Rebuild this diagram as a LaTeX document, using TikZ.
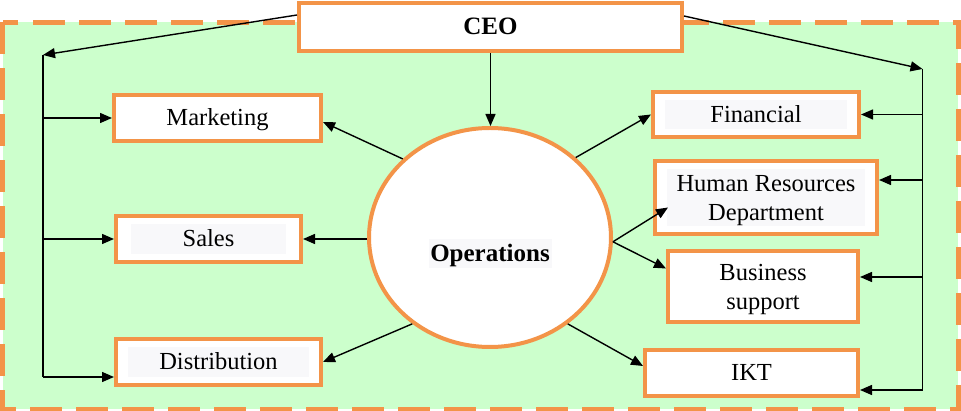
\documentclass[tikz,border=0pt]{standalone}
\usepackage{fontspec}
\setmainfont{Liberation Serif}
\usetikzlibrary{arrows.meta,shapes.geometric,calc}
\definecolor{org}{RGB}{243,148,72}
\definecolor{bg}{RGB}{204,255,204}
\definecolor{hlgray}{RGB}{248,248,250}
\tikzset{
 box/.style={draw=org, line width=4pt, fill=white, inner sep=0pt, font=\fontsize{24.5}{29}\selectfont, align=center},
 one/.style={text height=16pt, text depth=0pt},
 two/.style={text height=46pt, text depth=0pt},
 hl/.style={path picture={\fill[hlgray] ([shift={(#1,8pt)}]path picture bounding box.south west) rectangle ([shift={(-#1,-8pt)}]path picture bounding box.north east);}},
 arr/.style={line width=1.4pt, -{Triangle[length=12pt,width=10pt]}},
 ln/.style={line width=1.4pt},
}
\begin{document}
\begin{tikzpicture}[x=1pt,y=-1pt]
\useasboundingbox (0,0) rectangle (961,411);
\draw[org, line width=5pt, fill=bg, dash pattern=on 32pt off 14pt] (2.5,22.5) rectangle (958,409);

\node[box, one, minimum width=383pt, minimum height=48pt, font=\fontsize{25}{28}\selectfont\bfseries] (ceo) at (490.5,27) {CEO};
\node[box, one, minimum width=207pt, minimum height=46pt] (mkt) at (217.5,118) {Marketing};
\node[box, one, hl=15pt, minimum width=185pt, minimum height=46pt] (sales) at (208.5,239) {Sales};
\node[box, one, hl=12pt, minimum width=205pt, minimum height=46pt] (dist) at (218.5,362) {Distribution};
\node[box, one, hl=12pt, minimum width=206pt, minimum height=45pt] (fin) at (756,114.5) {Financial};
\node[box, two, hl=12pt, minimum width=222pt, minimum height=73pt] (hr) at (766,197.5) {Human Resources\\Department};
\node[box, two, minimum width=190pt, minimum height=71pt] (bs) at (763,286.5) {Business\\support};
\node[box, one, minimum width=213pt, minimum height=46pt] (ikt) at (751.5,373) {IKT};
\node[draw=org, line width=4pt, fill=white, ellipse, inner sep=0pt, minimum width=242pt, minimum height=219pt] (ops) at (490,237.5) {};
\node[fill=hlgray, minimum width=123pt, minimum height=29pt, inner sep=0pt, text height=16pt, text depth=0pt, font=\fontsize{25}{28}\selectfont\bfseries] (opsl) at (490,254) {Operations};

% CEO to Operations
\draw[arr] (ceo.south) -- (ceo.south |- ops.north);

% left bus
\coordinate (lt) at (43,55);
\coordinate (lb) at (43,377);
\draw[arr] ([yshift=-14pt]ceo.north west) -- (lt);
\draw[ln] (lt) -- (lb);
\draw[arr] (lt |- mkt.west) -- (mkt.west);
\draw[arr] (lt |- sales.west) -- (sales.west);
\draw[arr] (lb) -- (lb -| dist.west);

% right bus
\coordinate (rt) at (922.5,69);
\coordinate (rb) at (922.5,390);
\coordinate (rh) at (922.5,180);
\coordinate (rs) at (922.5,277);
\draw[arr] ([yshift=-15pt]ceo.north east) -- (rt);
\draw[ln] (rt) -- (rb);
\draw[arr] (rt |- fin.east) -- (fin.east);
\draw[arr] (rh) -- (rh -| hr.east);
\draw[arr] (rs) -- (rs -| bs.east);
\draw[arr] (rb) -- (rb -| ikt.east);

% Operations to departments
\draw[arr] (ops.138.2) -- ([yshift=-4pt]mkt.east);
\draw[arr] (ops.west |- sales.east) -- (sales.east);
\draw[arr] (ops.228.3) -- (dist.east);
\draw[arr] (ops.43.5) -- (fin.west);
\draw[arr] (ops.358) -- ([xshift=15pt,yshift=-10pt]hr.west);
\draw[arr] (ops.358) -- ([yshift=18pt]bs.west);
\draw[arr] (ops.312.4) -- ([yshift=7pt]ikt.west);
\end{tikzpicture}
\end{document}
